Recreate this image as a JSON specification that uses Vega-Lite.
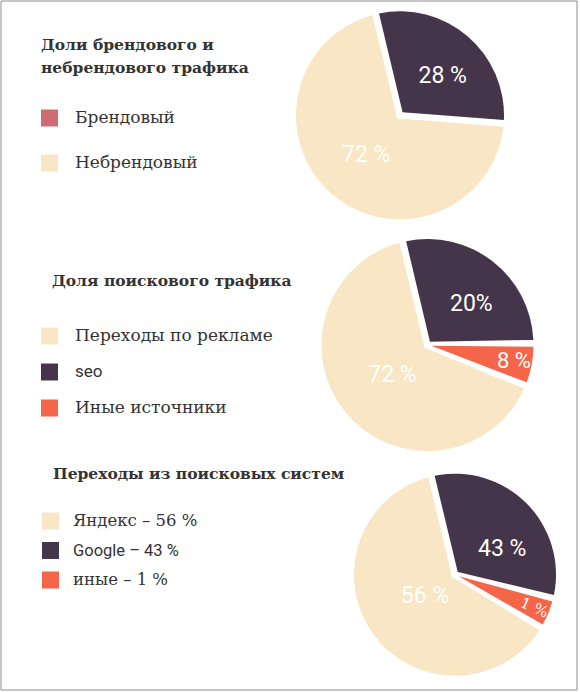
{
  "$schema": "https://vega.github.io/schema/vega-lite/v6.json",
  "width": 580,
  "height": 692,
  "autosize": {"type": "fit", "contains": "padding"},
  "padding": {"left": 0.5, "top": 0.5, "right": 3.5, "bottom": 2.5},
  "background": "white",
  "config": {"view": {"stroke": "#8c8c8c", "strokeWidth": 1}},
  "data": {
    "values": [
      {"chart": "A", "name": "Брендовый", "share": 30, "label": "28 %", "order": 1},
      {"chart": "A", "name": "Небрендовый", "share": 70, "label": "72 %", "order": 2},
      {"chart": "B", "name": "seo", "share": 28.5, "label": "20%", "order": 1},
      {"chart": "B", "name": "Иные источники", "share": 6.5, "label": "8 %", "order": 2},
      {"chart": "B", "name": "Переходы по рекламе", "share": 65, "label": "72 %", "order": 3},
      {"chart": "C", "name": "Google – 43 %", "share": 32.5, "label": "43 %", "order": 1},
      {"chart": "C", "name": "иные – 1 %", "share": 5, "label": "1 %", "order": 2},
      {"chart": "C", "name": "Яндекс – 56 %", "share": 62.5, "label": "56 %", "order": 3}
    ]
  },
  "encoding": {
    "x": {"field": "chart", "type": "nominal", "axis": null, "scale": {"type": "point", "domain": ["A", "B", "C"], "range": [399.5, 454.5], "padding": 0}},
    "y": {"field": "chart", "type": "nominal", "axis": null, "scale": {"type": "point", "domain": ["A", "B", "C"], "padding": 0.5}},
    "theta": {"field": "share", "type": "quantitative", "stack": true, "scale": {"domain": [0, 100], "range": [-0.2356, 6.0476]}},
    "order": {"field": "order", "type": "quantitative"}
  },
  "layer": [
    {
      "transform": [{"filter": "datum.chart === 'A'"}],
      "mark": {"type": "arc", "outerRadius": 104, "innerRadius": 4, "padAngle": 0.065},
      "encoding": {
        "color": {
          "field": "name", "type": "nominal",
          "scale": {"domain": ["Брендовый", "Небрендовый"], "range": ["#45354a", "#f8e6c4"]},
          "legend": null
        }
      }
    },
    {
      "transform": [{"filter": "datum.chart === 'A'"}],
      "mark": {"type": "arc", "outerRadius": 0, "innerRadius": 0},
      "encoding": {
        "color": {
          "field": "name", "type": "nominal",
          "scale": {"domain": ["Брендовый", "Небрендовый"], "range": ["#cf6b74", "#f8e6c4"]},
          "legend": {
            "orient": "none", "legendX": 40.5, "legendY": 37.5,
            "title": ["Доли брендового и", "небрендового трафика"],
            "titleFont": "DejaVu Serif", "titleFontWeight": "bold", "titleFontSize": 15.5, "titleColor": "#333333",
            "titleLineHeight": 23, "titlePadding": 33, "titleLimit": 400,
            "labelFont": "DejaVu Serif", "labelFontSize": 17, "labelColor": "#333333", "labelLimit": 400, "labelOffset": 17,
            "symbolType": "square", "symbolSize": 289, "symbolStrokeWidth": 0, "symbolOpacity": 1, "rowPadding": 27, "padding": 0
          }
        }
      }
    },
    {
      "transform": [{"filter": "datum.chart === 'B'"}],
      "mark": {"type": "arc", "outerRadius": 106, "innerRadius": 4, "padAngle": 0.065},
      "encoding": {
        "color": {
          "field": "name", "type": "nominal",
          "scale": {"domain": ["Переходы по рекламе", "seo", "Иные источники"], "range": ["#f8e6c4", "#45354a", "#f46549"]},
          "legend": {
            "orient": "none", "legendX": 40.5, "legendY": 273.5,
            "title": "Доля поискового трафика",
            "titleFont": "DejaVu Serif", "titleFontWeight": "bold", "titleFontSize": 15.5, "titleColor": "#333333",
            "titlePadding": 38, "titleLimit": 400,
            "labelFont": "DejaVu Serif", "labelFontSize": 17, "labelColor": "#333333", "labelLimit": 400, "labelOffset": 17,
            "symbolType": "square", "symbolSize": 289, "symbolStrokeWidth": 0, "symbolOpacity": 1, "rowPadding": 18, "padding": 0,
            "encode": {"title": {"update": {"dx": {"value": 11}}}, "labels": {"update": {"font": {"signal": "datum.label === 'seo' ? 'Roboto' : 'DejaVu Serif'"}}}}
          }
        }
      }
    },
    {
      "transform": [{"filter": "datum.chart === 'C'"}],
      "mark": {"type": "arc", "outerRadius": 101, "innerRadius": 4, "padAngle": 0.065},
      "encoding": {
        "color": {
          "field": "name", "type": "nominal",
          "scale": {"domain": ["Яндекс – 56 %", "Google – 43 %", "иные – 1 %"], "range": ["#f8e6c4", "#45354a", "#f46549"]},
          "legend": {
            "orient": "none", "legendX": 41.5, "legendY": 466.5,
            "title": "Переходы из поисковых систем",
            "titleFont": "DejaVu Serif", "titleFontWeight": "bold", "titleFontSize": 15.5, "titleColor": "#333333",
            "titlePadding": 30, "titleLimit": 400,
            "labelFont": "DejaVu Serif", "labelFontSize": 16.5, "labelColor": "#333333", "labelLimit": 400, "labelOffset": 14,
            "symbolType": "square", "symbolSize": 289, "symbolStrokeWidth": 0, "symbolOpacity": 1, "rowPadding": 12.5, "padding": 0,
            "encode": {"title": {"update": {"dx": {"value": 11}}}, "labels": {"update": {"font": {"signal": "indexof(datum.label, 'Google') === 0 ? 'Roboto' : 'DejaVu Serif'"}}}}
          }
        }
      }
    },
    {
      "transform": [{"filter": "datum.chart === 'A'"}],
      "mark": {"type": "text", "radius": 58, "thetaOffset": 0.12, "font": "Roboto", "fontSize": 23, "color": "white", "align": "center", "baseline": "middle"},
      "encoding": {"text": {"condition": {"test": "datum.order !== 1", "value": ""}, "field": "label"}}
    },
    {
      "transform": [{"filter": "datum.chart === 'A'"}],
      "mark": {"type": "text", "radius": 52, "font": "Roboto", "fontSize": 23, "color": "white", "align": "center", "baseline": "middle"},
      "encoding": {"text": {"condition": {"test": "datum.order !== 2", "value": ""}, "field": "label"}}
    },
    {
      "transform": [{"filter": "datum.chart === 'B'"}],
      "mark": {"type": "text", "radius": 60, "thetaOffset": 0.16, "font": "Roboto", "fontSize": 23, "color": "white", "align": "center", "baseline": "middle"},
      "encoding": {"text": {"condition": {"test": "datum.order !== 1", "value": ""}, "field": "label"}}
    },
    {
      "transform": [{"filter": "datum.chart === 'B'"}],
      "mark": {"type": "text", "radius": 88, "font": "Roboto", "fontSize": 22, "color": "white", "align": "center", "baseline": "middle"},
      "encoding": {"text": {"condition": {"test": "datum.order !== 2", "value": ""}, "field": "label"}}
    },
    {
      "transform": [{"filter": "datum.chart === 'B'"}],
      "mark": {"type": "text", "radius": 46, "font": "Roboto", "fontSize": 23, "color": "white", "align": "center", "baseline": "middle"},
      "encoding": {"text": {"condition": {"test": "datum.order !== 3", "value": ""}, "field": "label"}}
    },
    {
      "transform": [{"filter": "datum.chart === 'C'"}],
      "mark": {"type": "text", "radius": 54, "thetaOffset": 0.28, "font": "Roboto", "fontSize": 23, "color": "white", "align": "center", "baseline": "middle"},
      "encoding": {"text": {"condition": {"test": "datum.order !== 1", "value": ""}, "field": "label"}}
    },
    {
      "transform": [{"filter": "datum.chart === 'C'"}],
      "mark": {"type": "text", "radius": 86, "angle": 23, "font": "DejaVu Serif", "fontSize": 15, "color": "white", "align": "center", "baseline": "middle"},
      "encoding": {"text": {"condition": {"test": "datum.order !== 2", "value": ""}, "field": "label"}}
    },
    {
      "transform": [{"filter": "datum.chart === 'C'"}],
      "mark": {"type": "text", "radius": 37, "font": "Roboto", "fontSize": 23, "color": "white", "align": "center", "baseline": "middle"},
      "encoding": {"text": {"condition": {"test": "datum.order !== 3", "value": ""}, "field": "label"}}
    }
  ],
  "resolve": {"scale": {"color": "independent"}, "legend": {"color": "independent"}}
}
